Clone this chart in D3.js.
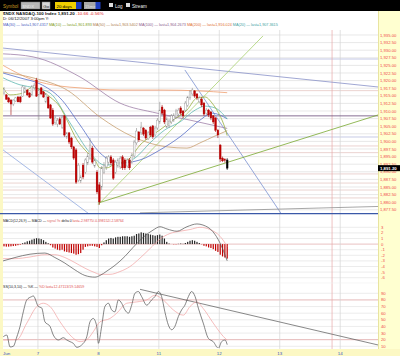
<!DOCTYPE html>
<html><head><meta charset="utf-8">
<script src="https://cdn.jsdelivr.net/npm/d3@7"></script>
<style>html,body{margin:0;padding:0;background:#fff;overflow:hidden}text{font-family:"Liberation Sans",Arial,sans-serif}</style>
</head><body>
<svg id="c" width="400" height="356"></svg>
<script>
// ---------------- DATA ----------------
const opens  = [1915.9,1915.3,1914.3,1913.6,1912.3,1913.3,1914.6,1914.6,1914.9,1916.2,
                1916.9,1915.9,1915.3,1917.6,1920.2,1915.3,1917.6,1916.3,1913.0,1914.6,
                1912.0,1910.3,1906.1,1905.7,1907.4,1904.7,1908.4,1901.5,1902.8,1901.1,
                1898.2,1897.2,1887.3,1887.0,1892.2,1889.9,1892.9,1894.5,1897.8,1891.9,
                1889.9,1885.7,1885.0,1889.9,1891.6,1893.2,1894.9,1893.9,1889.9,1891.9,
                1891.6,1894.9,1893.9,1891.9,1893.9,1893.2,1895.2,1899.5,1903.1,1902.8,
                1904.4,1903.7,1900.8,1904.7,1905.1,1902.1,1904.4,1906.4,1911.3,1910.3,
                1904.7,1905.1,1906.4,1907.0,1908.0,1909.0,1911.0,1910.0,1910.3,1911.9,
                1914.3,1915.6,1916.6,1915.6,1913.0,1913.9,1912.6,1909.3,1910.3,1909.7,
                1908.4,1907.7,1903.7,1898.8,1894.5,1894.0,1893.9];
const closes = [1917.2,1913.9,1913.0,1912.3,1913.6,1914.3,1913.0,1913.0,1917.9,1917.6,
                1915.3,1914.6,1918.2,1918.5,1914.9,1916.9,1915.6,1914.6,1915.6,1911.0,
                1907.7,1905.7,1907.7,1907.0,1905.7,1908.0,1902.1,1902.8,1899.8,1898.2,
                1894.5,1886.6,1892.2,1888.3,1888.3,1893.9,1895.2,1898.8,1893.2,1893.9,
                1883.4,1880.1,1891.3,1892.2,1894.5,1894.9,1892.9,1887.9,1893.2,1893.9,
                1894.5,1891.3,1891.3,1893.9,1891.3,1895.5,1899.8,1903.4,1900.5,1904.7,
                1902.4,1901.1,1902.8,1902.1,1901.5,1904.4,1907.0,1910.3,1909.3,1906.4,
                1907.4,1906.7,1908.4,1908.7,1910.0,1910.3,1909.3,1908.4,1912.6,1914.6,
                1916.3,1916.9,1914.9,1914.3,1914.3,1912.0,1909.0,1910.3,1908.7,1907.7,
                1906.4,1903.7,1902.1,1894.2,1893.6,1893.9,1891.2];
const highs  = [1917.9,1915.6,1914.6,1913.9,1913.9,1914.6,1914.9,1914.9,1918.5,1918.2,
                1917.2,1916.2,1918.5,1919.2,1920.9,1917.6,1917.9,1916.6,1915.9,1914.9,
                1912.3,1911.0,1908.4,1907.7,1908.0,1908.7,1908.7,1903.1,1903.1,1901.5,
                1898.5,1897.8,1892.9,1889.0,1892.9,1894.5,1896.2,1901.1,1898.5,1894.2,
                1890.6,1886.6,1891.9,1893.2,1895.2,1895.5,1895.5,1894.5,1893.9,1894.5,
                1895.2,1895.5,1894.5,1894.5,1894.5,1896.2,1900.5,1904.4,1903.4,1906.4,
                1904.7,1904.1,1903.4,1905.1,1905.4,1905.1,1907.7,1913.0,1912.0,1910.7,
                1908.0,1907.4,1909.0,1909.3,1910.7,1911.0,1911.6,1910.3,1913.3,1914.9,
                1916.9,1917.6,1916.9,1915.9,1914.9,1914.6,1913.0,1911.0,1910.7,1910.0,
                1908.7,1908.0,1904.1,1899.1,1895.0,1894.5,1894.5];
const lows   = [1915.3,1913.6,1912.6,1908.7,1911.6,1913.0,1912.9,1912.6,1914.6,1915.9,
                1914.9,1914.3,1914.9,1916.9,1914.6,1907.0,1915.3,1914.3,1912.6,1910.7,
                1907.4,1905.1,1905.4,1904.7,1905.4,1904.1,1901.5,1900.8,1899.1,1897.5,
                1893.9,1886.0,1886.6,1886.3,1887.6,1889.3,1892.2,1893.9,1892.6,1891.3,
                1882.7,1879.1,1884.0,1889.3,1890.6,1892.2,1892.2,1887.3,1889.3,1891.3,
                1890.9,1890.6,1890.6,1891.3,1890.6,1892.6,1894.5,1898.8,1899.8,1902.1,
                1901.8,1900.5,1900.5,1901.5,1900.8,1901.5,1903.7,1905.7,1908.7,1905.7,
                1904.4,1904.4,1905.7,1906.4,1907.4,1908.4,1908.7,1907.7,1909.7,1911.3,
                1913.6,1914.9,1914.3,1913.6,1912.6,1911.3,1908.4,1908.7,1908.0,1907.0,
                1905.7,1903.1,1901.1,1893.2,1893.2,1893.0,1890.6];

// moving averages, [bar, value]
const ma30  = [[-0.4,1922.5],[6.9,1920.9],[15.5,1918.9],[24.1,1914.3],[32.7,1905.4],[41.3,1896.2],[49.9,1892.9],[58.5,1893.9],[67.1,1897.2],[75.7,1901.5],[84.3,1907.0],[89.5,1909.3],[96,1907.43]];
const ma10  = [[-0.4,1917.6],[2.6,1915.3],[8.2,1915.9],[12.5,1917.9],[16.8,1916.3],[19.8,1914.6],[24.1,1911.3],[27.1,1907.0],[31.4,1900.5],[34.8,1897.2],[39.1,1893.9],[41.3,1891.3],[44.3,1891.3],[46.9,1892.2],[49.9,1892.9],[54.2,1894.5],[58.5,1898.8],[62.8,1901.5],[67.1,1903.8],[72.7,1907.0],[78.7,1910.3],[83.0,1914.3],[86.5,1914.6],[89.5,1912.6],[92.0,1909.7],[94.6,1905.4],[96,1901.89]];
const ma50  = [[-0.4,1922.8],[12.5,1920.9],[27.1,1916.9],[41.3,1908.0],[55.5,1901.5],[70.1,1898.2],[78.7,1897.8],[84.3,1899.5],[90.8,1901.8],[96,1903.54]];
const ma100 = [[-0.4,1928.8],[12.5,1927.8],[32.7,1921.2],[49.9,1912.6],[65.8,1909.3],[80.0,1907.0],[96,1904.27]];
const ma200 = [[-0.4,1925.0],[12.5,1920.2],[24.1,1918.2],[32.7,1917.6],[49.9,1916.9],[67.1,1916.9],[84.3,1916.6],[96,1916.02]];
const ma20  = [[-0.4,1920.9],[6.9,1918.6],[13.3,1917.6],[19.8,1915.9],[28.4,1906.1],[37.0,1896.2],[43.4,1892.2],[49.9,1892.6],[56.3,1894.5],[62.8,1899.5],[69.2,1903.8],[75.7,1906.4],[82.2,1910.3],[86.5,1911.6],[90.8,1911.0],[96,1907.36]];

// drawn trend lines [[bar,price],[bar,price]]
const trendLines = [
  {p:[[-0.4,1930.7],[160.9,1917.9]], c:"#8890c8"},
  {p:[[-0.4,1908.4],[160.9,1908.4]], c:"#6a4a78"},
  {p:[[-0.4,1897.2],[40.0,1874.2]], c:"#8fa8e0"},
  {p:[[77.8,1923.5],[119.6,1875.8]], c:"#7a90d0"},
  {p:[[40.4,1879.1],[111.4,1934.7]], c:"#a8d070"},
  {p:[[40.4,1879.7],[160.9,1908.7]], c:"#78a830"},
  {p:[[58.5,1876.5],[160.9,1878.6]], c:"#909090"}
];
const levelLines = [[1927.1,"#b8bce0"],[1916.7,"#e6c8c4"],[1901.45,"#b8bce0"],[1898.5,"#e6c8c4"],[1896.3,"#e6c8c4"],[1889.3,"#e6c8c4"],[1886.3,"#e6c8c4"],[1884.0,"#e6c8c4"],[1881.4,"#e6c8c4"]];

const priceTicks = d3.range(1877.5, 1935.01, 2.5);
const macdTicks = [3,2,1,0,-1,-2,-3,-4,-5,-6];
const stochTicks = [90,80,70,60,50,40,30,20,10];
const dayTicks = [14.6,40.6,66.6,92.6,118.6,144.6];
const dayLabels = ["7","8","11","12","13","14"];
const markerBar = 141.1;
const lastPrice = 1891.20;

const macdHist = [-0.4,-0.45,-0.45,-0.4,-0.35,-0.3,-0.2,-0.1,0.15,0.3,
                  0.5,0.6,0.8,0.95,1.05,1.0,0.9,0.7,0.4,0.15,
                  -0.2,-0.6,-0.8,-1.0,-1.1,-1.0,-1.3,-1.4,-1.5,-1.6,
                  -1.7,-1.9,-1.8,-1.6,-1.0,-0.5,-0.4,-0.3,-0.3,-0.4,
                  -0.5,-0.7,-0.2,0.3,0.7,1.0,1.1,1.0,1.2,1.3,
                  1.3,1.4,1.4,1.4,1.3,1.4,1.5,1.8,1.9,2.1,
                  2.0,1.9,1.8,1.7,1.6,1.5,1.6,1.7,1.5,1.0,
                  0.4,0.1,0.0,-0.05,-0.05,0.05,0.1,0.05,0.2,0.4,
                  0.6,0.7,0.6,0.4,0.2,-0.05,-0.3,-0.4,-0.6,-0.7,
                  -0.9,-1.2,-1.4,-1.9,-2.2,-2.4,-2.59];
const macdLine = [[-0.4,-3.0],[4.7,-2.4],[11.2,-1.8],[17.6,-1.6],[21.9,-2.4],[26.2,-3.4],[30.5,-4.6],[34.8,-5.6],[39.1,-5.9],[41.3,-5.6],[44.3,-4.8],[47.7,-3.8],[52.0,-2.2],[55.5,-0.6],[59.8,1.2],[64.1,2.5],[67.1,3.1],[70.1,2.7],[74.4,2.3],[78.7,3.1],[83.0,3.6],[85.6,3.4],[89.9,2.2],[92.9,0.2],[96,-2.99]];
const signalLine = [[-0.4,-2.6],[4.7,-2.6],[11.2,-2.3],[17.6,-1.9],[21.9,-1.9],[26.2,-2.4],[30.5,-3.3],[34.8,-4.3],[39.1,-5.1],[41.3,-5.4],[45.6,-5.4],[49.9,-4.9],[54.2,-4.0],[58.5,-2.5],[62.8,-0.8],[67.1,0.9],[71.4,1.9],[75.7,2.3],[80.0,2.6],[84.3,3.0],[88.6,2.6],[92.9,1.4],[96,-0.4]];

const stochK = [[-0.3,24.5],[1.2,27],[2.6,9],[4.0,10],[5.5,24],[6.9,40],[8.3,62],[9.8,80],[11.9,85],[12.6,86],[14.8,70],[16.2,68],[17.6,47],[19.8,40],[21.2,27],[23.4,19.5],[25.5,23],[27.0,19.5],[28.4,17],[29.8,14.5],[31.3,8.5],[33.4,12],[35.6,24.5],[37.0,47],[38.4,52],[39.9,40],[40.6,14.5],[42.0,40],[43.4,70],[44.9,75],[46.3,65],[47.7,62],[49.2,80],[50.6,75],[52.0,65],[53.5,60],[54.9,72],[56.3,90],[57.8,92.7],[59.2,85],[61.4,72],[63.5,80],[64.9,85],[66.4,92.7],[67.8,85],[69.2,62],[70.7,42],[72.1,35],[73.5,40],[75.0,55],[76.4,65],[77.8,72],[79.3,85],[80.7,92.7],[82.2,85],[83.6,67.5],[85.7,45],[87.9,22],[90.0,17],[92.2,7],[93.6,17],[95.1,19.5],[96,12.47]];
const stochD = [[-0.3,19.5],[5.5,20],[9.8,45],[14.1,70],[16.9,75],[19.8,70],[24.1,47],[28.4,27],[32.7,17],[35.6,20],[38.4,32],[41.3,47],[45.6,52],[48.5,60],[52.8,75],[57.1,77],[61.4,80],[64.9,87],[68.5,80],[72.8,65],[77.1,57],[80.0,70],[82.9,77],[85.7,67],[90.0,45],[94.3,25],[96,19.15]];
const stochTrend = [[58.5,96],[160.9,12]];

// ---------------- DRAW ----------------
const svg = d3.select('#c');
const L = 3, R = 378;
const x  = d3.scaleLinear().domain([0,96]).range([4,227.2]);
const yP = d3.scaleLinear().domain([1877.5,1935]).range([209.8,35]);
const yM = d3.scaleLinear().domain([-6,3]).range([277.7,227.3]);
const yS = d3.scaleLinear().domain([10,90]).range([346.3,293.3]);
const fmt = d3.format(",.2f");
const AX = "#f04848";

svg.append('rect').attr('width',400).attr('height',356).attr('fill','#fcf8c4');
svg.append('rect').attr('x',L).attr('y',11).attr('width',R-L).attr('height',338).attr('fill','#fff');
svg.append('rect').attr('x',R).attr('y',11).attr('width',400-R).attr('height',338).attr('fill','#ffffd0');
svg.append('line').attr('x1',R+0.5).attr('x2',R+0.5).attr('y1',11).attr('y2',349).attr('stroke','#e8e4a0');

// top control bar
svg.append('rect').attr('width',400).attr('height',11).attr('fill','#000');
svg.append('text').attr('x',3).attr('y',7.6).attr('font-size',4.6).attr('fill','#c89a20').text('Symbol');
svg.append('rect').attr('x',21).attr('y',2).attr('width',19).attr('height',7).attr('fill','#b8b8b8').attr('stroke','#777').attr('stroke-width',0.5);
svg.append('text').attr('x',22.5).attr('y',7.5).attr('font-size',4.4).attr('fill','#e8e8e8').text('$NDX');
svg.append('rect').attr('x',42).attr('y',2).attr('width',8).attr('height',7).attr('fill','#d8d8d8').attr('stroke','#888').attr('stroke-width',0.5);
svg.append('text').attr('x',43.3).attr('y',7.5).attr('font-size',4.4).attr('fill','#222').text('Go');
svg.append('rect').attr('x',55).attr('y',2).attr('width',21).attr('height',7).attr('fill','#f0d000');
svg.append('text').attr('x',56.5).attr('y',7.5).attr('font-size',4.4).attr('fill','#000').text('20 days');
svg.append('rect').attr('x',76).attr('y',2).attr('width',5.5).attr('height',7).attr('fill','#2040c0');
svg.append('rect').attr('x',84).attr('y',2).attr('width',12).attr('height',7).attr('fill','#a8a8a8');
svg.append('text').attr('x',85).attr('y',7.5).attr('font-size',4.2).attr('fill','#ddd').text('15min');
svg.append('rect').attr('x',95.5).attr('y',2).attr('width',5).attr('height',7).attr('fill','#2040c0');
[[109,'Log'],[126,'Stream']].forEach(([cx,t])=>{
  svg.append('rect').attr('x',cx).attr('y',3).attr('width',4).attr('height',4).attr('fill','#ddd');
  svg.append('text').attr('x',cx+6).attr('y',7.5).attr('font-size',4.6).attr('fill','#eee').text(t);
});

// header texts
const h1 = svg.append('text').attr('x',3).attr('y',15.3).attr('font-size',4.4).attr('font-weight','bold').attr('fill','#111');
h1.append('tspan').text('$NDX NASDAQ-100 Index  ');
h1.append('tspan').text('1,891.20  ');
h1.append('tspan').attr('fill','#e02020').attr('font-weight','normal').text('-10.66  -0.56%');
svg.append('text').attr('x',3).attr('y',20.3).attr('font-size',4.2).attr('fill','#111').text('D: 06/12/2007    3:00pm   Y:');
const maLegend = [["MA(30) — last=1,907.4317 ","#4860c0"],["MA(10) — last=1,901.893 ","#7a9a20"],["MA(50) — last=1,903.5402 ","#b08050"],["MA(100) — last=1,904.2673 ","#8a5a8a"],["MA(200) — last=1,916.024 ","#e07030"],["MA(20) — last=1,907.3615","#40a0a0"]];
const h3 = svg.append('text').attr('x',3).attr('y',25.5).attr('font-size',3.75);
maLegend.forEach(([t,c])=>h3.append('tspan').attr('fill',c).text(t));

// clip paths
const defs = svg.append('defs');
defs.append('clipPath').attr('id','cm').append('rect').attr('x',L).attr('y',30).attr('width',R-L).attr('height',183);
defs.append('clipPath').attr('id','cs').append('rect').attr('x',L).attr('y',284).attr('width',R-L).attr('height',64);

// price grid
const gm = svg.append('g');
priceTicks.forEach(v=>{
  gm.append('line').attr('x1',L).attr('x2',R).attr('y1',yP(v)).attr('y2',yP(v)).attr('stroke','#dedede').attr('stroke-width',0.7);
  svg.append('text').attr('x',380).attr('y',yP(v)+1.5).attr('font-size',4.2).attr('fill',AX).text(fmt(v));
});
levelLines.forEach(([v,c])=>gm.append('line').attr('x1',L).attr('x2',R).attr('y1',yP(v)).attr('y2',yP(v)).attr('stroke',c).attr('stroke-width',0.8));
// macd grid
macdTicks.forEach(v=>{
  gm.append('line').attr('x1',L).attr('x2',R).attr('y1',yM(v)).attr('y2',yM(v)).attr('stroke',v===0?'#e0a8a8':'#e4e4e4').attr('stroke-width',0.7);
  svg.append('text').attr('x',381).attr('y',yM(v)+1.5).attr('font-size',4.2).attr('fill',AX).text(v);
});
// stoch grid
stochTicks.forEach(v=>{
  gm.append('line').attr('x1',L).attr('x2',R).attr('y1',yS(v)).attr('y2',yS(v)).attr('stroke',(v===80||v===20)?'#d89898':'#e4e4e4').attr('stroke-width',0.7);
  svg.append('text').attr('x',381).attr('y',yS(v)+1.5).attr('font-size',4.2).attr('fill',AX).text(v);
});
// vertical grid
dayTicks.forEach(d=>gm.append('line').attr('x1',x(d)).attr('x2',x(d)).attr('y1',30).attr('y2',349).attr('stroke','#d4d4d4').attr('stroke-width',0.7));
gm.append('line').attr('x1',x(markerBar)).attr('x2',x(markerBar)).attr('y1',30).attr('y2',349).attr('stroke','#e8a8a8').attr('stroke-width',0.7);

// panel separators
svg.append('line').attr('x1',0).attr('x2',R).attr('y1',213.6).attr('y2',213.6).attr('stroke','#3a58a8').attr('stroke-width',1.4);
svg.append('line').attr('x1',L).attr('x2',R).attr('y1',283).attr('y2',283).attr('stroke','#f0f0f0').attr('stroke-width',0.6);

// trend lines
const gMain = svg.append('g').attr('clip-path','url(#cm)');
const lineP = d3.line().x(d=>x(d[0])).y(d=>yP(d[1]));
trendLines.forEach(t=>gMain.append('path').attr('d',lineP(t.p)).attr('fill','none').attr('stroke',t.c).attr('stroke-width',0.8));
// MAs
const lineC = d3.line().x(d=>x(d[0])).y(d=>yP(d[1])).curve(d3.curveMonotoneX);
[[ma200,'#f0a070'],[ma100,'#a080a8'],[ma50,'#c8a070'],[ma30,'#5870c8'],[ma20,'#60b8b0'],[ma10,'#98b040']].forEach(([d,c])=>
  gMain.append('path').attr('d',lineC(d)).attr('fill','none').attr('stroke',c).attr('stroke-width',0.8));

// candles
const bars = d3.range(opens.length);
const bw = 1.7;
gMain.selectAll('line.wick').data(bars).join('line').attr('class','wick')
  .attr('x1',i=>x(i)).attr('x2',i=>x(i)).attr('y1',i=>yP(highs[i])).attr('y2',i=>yP(lows[i]))
  .attr('stroke',i=>i===bars.length-1?'#000':(closes[i]<opens[i]?'#a00000':'#8a8a8a')).attr('stroke-width',0.6);
gMain.selectAll('rect.body').data(bars).join('rect').attr('class','body')
  .attr('x',i=>x(i)-bw/2).attr('width',bw)
  .attr('y',i=>yP(Math.max(opens[i],closes[i])))
  .attr('height',i=>Math.max(0.6,Math.abs(yP(opens[i])-yP(closes[i]))))
  .attr('fill',i=>i===bars.length-1?'#000':(closes[i]<opens[i]?'#c00000':'#fff'))
  .attr('stroke',i=>i===bars.length-1?'#000':(closes[i]<opens[i]?'#b00000':'#909090')).attr('stroke-width',0.4);

// last price tag
svg.append('rect').attr('x',R).attr('y',yP(lastPrice)-3).attr('width',22).attr('height',6).attr('fill','#000');
svg.append('text').attr('x',380).attr('y',yP(lastPrice)+1.6).attr('font-size',4.3).attr('font-weight','bold').attr('fill','#fff').text(fmt(lastPrice));

// MACD panel
const mt = svg.append('text').attr('x',3).attr('y',221.8).attr('font-size',3.4);
mt.append('tspan').attr('fill','#222').text('MACD(12,26,9) — MACD — ');
mt.append('tspan').attr('fill','#e07070').text('signal 9x ');
mt.append('tspan').attr('fill','#222').text('delta 0 ');
mt.append('tspan').attr('fill','#e05050').text('last=-2.98775/-0.398152/-2.58764');
svg.append('g').selectAll('rect').data(bars).join('rect')
  .attr('x',i=>x(i)-0.6).attr('width',1.2)
  .attr('y',i=>Math.min(yM(0),yM(macdHist[i])))
  .attr('height',i=>Math.abs(yM(macdHist[i])-yM(0)))
  .attr('fill',i=>macdHist[i]>=0?'#222':'#c00000');
const lineM = d3.line().x(d=>x(d[0])).y(d=>yM(d[1])).curve(d3.curveMonotoneX);
svg.append('path').attr('d',lineM(signalLine)).attr('fill','none').attr('stroke','#f0a0a0').attr('stroke-width',0.7);
svg.append('path').attr('d',lineM(macdLine)).attr('fill','none').attr('stroke','#505050').attr('stroke-width',0.7);

// Stoch panel
const st = svg.append('text').attr('x',3).attr('y',287.6).attr('font-size',3.6);
st.append('tspan').attr('fill','#222').text('SS(10,3,10) — %K — ');
st.append('tspan').attr('fill','#e05050').text('%D last=12.47113/19.14659');
const gS = svg.append('g').attr('clip-path','url(#cs)');
const lineS = d3.line().x(d=>x(d[0])).y(d=>yS(d[1])).curve(d3.curveMonotoneX);
gS.append('path').attr('d',d3.line().x(d=>x(d[0])).y(d=>yS(d[1]))(stochTrend)).attr('fill','none').attr('stroke','#555').attr('stroke-width',0.7);
gS.append('path').attr('d',lineS(stochD)).attr('fill','none').attr('stroke','#f0a0a0').attr('stroke-width',0.7);
gS.append('path').attr('d',lineS(stochK)).attr('fill','none').attr('stroke','#505050').attr('stroke-width',0.7);

// x-axis labels
svg.append('text').attr('x',3).attr('y',354.5).attr('font-size',4.4).attr('fill','#3050c0').text('Jun');
dayTicks.forEach((d,k)=>svg.append('text').attr('x',x(d)).attr('y',354.5).attr('text-anchor','middle').attr('font-size',4.4).attr('fill','#3050c0').text(dayLabels[k]));
</script>
</body></html>
